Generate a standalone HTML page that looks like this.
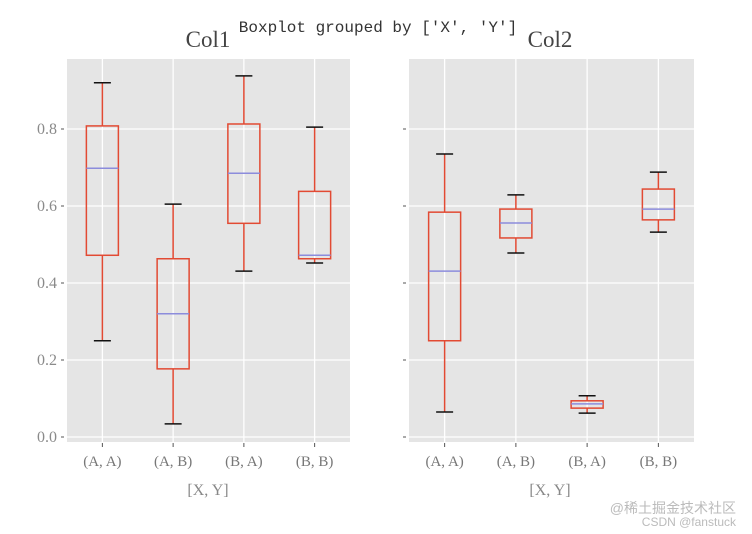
<!DOCTYPE html>
<html><head><meta charset="utf-8"><style>
html,body{margin:0;padding:0;background:#fff;}
svg{display:block;}
text{font-family:"Liberation Serif","Noto Serif CJK SC",serif;}
</style></head><body>
<svg id="chart" width="752" height="534" viewBox="0 0 752 534" xmlns="http://www.w3.org/2000/svg">
<text x="378" y="32" text-anchor="middle" font-size="16" fill="#333" style="font-family:'Liberation Mono',monospace">Boxplot grouped by ['X', 'Y']</text>
<text x="208" y="47" text-anchor="middle" font-size="23" fill="#444">Col1</text>
<text x="550" y="47" text-anchor="middle" font-size="23" fill="#444">Col2</text>
<text x="208" y="495" text-anchor="middle" font-size="16" fill="#888">[X, Y]</text>
<text x="550" y="495" text-anchor="middle" font-size="16" fill="#888">[X, Y]</text>
<text x="736" y="513" text-anchor="end" font-size="14" fill="#bbb" style="font-family:'Liberation Sans','Noto Sans CJK SC',sans-serif">@稀土掘金技术社区</text>
<text x="736" y="526" text-anchor="end" font-size="12" fill="#bbb" style="font-family:'Liberation Sans',sans-serif">CSDN @fanstuck</text>
</svg>
<script>
const categories = ["(A, A)", "(A, B)", "(B, A)", "(B, B)"];
const yTicks = [0.0, 0.2, 0.4, 0.6, 0.8];
const yTickLabels = ["0.0", "0.2", "0.4", "0.6", "0.8"];
const col1Low = [0.25, 0.034, 0.431, 0.452];
const col1Q1 = [0.472, 0.177, 0.555, 0.463];
const col1Med = [0.698, 0.32, 0.685, 0.472];
const col1Q3 = [0.808, 0.463, 0.813, 0.638];
const col1High = [0.92, 0.605, 0.938, 0.805];
const col2Low = [0.065, 0.478, 0.062, 0.532];
const col2Q1 = [0.25, 0.517, 0.075, 0.564];
const col2Med = [0.431, 0.556, 0.086, 0.592];
const col2Q3 = [0.584, 0.592, 0.094, 0.644];
const col2High = [0.735, 0.629, 0.107, 0.688];

const NS = "http://www.w3.org/2000/svg";
const svg = document.getElementById('chart');
const top0 = 59, bot0 = 442;
function y(v){ return 437 - v * 385; }
function mk(tag, attrs, parent){
  const e = document.createElementNS(NS, tag);
  for (const k in attrs) e.setAttribute(k, attrs[k]);
  (parent || svg).appendChild(e);
  return e;
}
function panel(name, x0, x1, low, q1, med, q3, high, showLabels){
  const g = mk('g', {});
  
  
  const bg = mk('rect', {x:x0, y:top0, width:x1-x0, height:bot0-top0, fill:'#e5e5e5'}, g);
  
  
  const step = (x1 - x0) / categories.length;
  const cx = i => x0 + step * (i + 0.5);
  yTicks.forEach((t, i) => {
    const gl = mk('line', {x1:x0, x2:x1, y1:y(t), y2:y(t), stroke:'#fff', 'stroke-width':1.3}, g);
    
    
    const tk = mk('line', {x1:x0-6, x2:x0-3, y1:y(t), y2:y(t), stroke:'#555', 'stroke-width':1}, g);
    
    
    if (showLabels) {
      const tl = mk('text', {x:x0-10, y:y(t)+5, 'text-anchor':'end', 'font-size':16, fill:'#8a8a8a'}, g);
      tl.textContent = yTickLabels[i];
      
      
    }
  });
  categories.forEach((c, i) => {
    const x = cx(i);
    const vg = mk('line', {x1:x, x2:x, y1:top0, y2:bot0, stroke:'#fff', 'stroke-width':1.3}, g);
    
    
    const tk = mk('line', {x1:x, x2:x, y1:bot0+1, y2:bot0+5, stroke:'#555', 'stroke-width':1}, g);
    
    
    const tl = mk('text', {x:x, y:bot0+24, 'text-anchor':'middle', 'font-size':15, fill:'#777'}, g);
    tl.textContent = c;
    
    
  });
  categories.forEach((c, i) => {
    const x = cx(i), bw = 32, cw = 17;
    const bg2 = mk('g', {}, g);
    
    
    mk('line', {x1:x, x2:x, y1:y(high[i]), y2:y(q3[i]), stroke:'#e24a33', 'stroke-width':1.5}, bg2);
    mk('line', {x1:x, x2:x, y1:y(q1[i]), y2:y(low[i]), stroke:'#e24a33', 'stroke-width':1.5}, bg2);
    mk('line', {x1:x-cw/2, x2:x+cw/2, y1:y(high[i]), y2:y(high[i]), stroke:'#111', 'stroke-width':1.5}, bg2);
    mk('line', {x1:x-cw/2, x2:x+cw/2, y1:y(low[i]), y2:y(low[i]), stroke:'#111', 'stroke-width':1.5}, bg2);
    mk('rect', {x:x-bw/2, y:y(q3[i]), width:bw, height:y(q1[i])-y(q3[i]), fill:'none', stroke:'#e24a33', 'stroke-width':1.5}, bg2);
    mk('line', {x1:x-bw/2, x2:x+bw/2, y1:y(med[i]), y2:y(med[i]), stroke:'#8c8cdc', 'stroke-width':1.5}, bg2);
  });
}
panel('col1', 67, 350, col1Low, col1Q1, col1Med, col1Q3, col1High, true);
panel('col2', 409, 694, col2Low, col2Q1, col2Med, col2Q3, col2High, false);
</script>
</body></html>
